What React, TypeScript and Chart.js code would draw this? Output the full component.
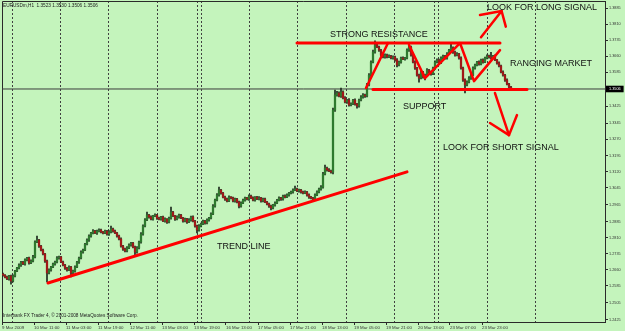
import React, { useEffect, useRef } from 'react';
import { Chart, registerables } from 'chart.js';

Chart.register(...registerables);

// ---- Data (EURUSDm, H1) ----
const closes: number[] = [
  1.2635, 1.2626, 1.2617, 1.2631, 1.2607, 1.2631, 1.2654, 1.2668, 1.2682, 1.2696,
  1.2687, 1.2706, 1.2715, 1.2692, 1.2701, 1.2720, 1.2790, 1.2799, 1.2771, 1.2752,
  1.2734, 1.2701, 1.2645, 1.2659, 1.2673, 1.2687, 1.2696, 1.2715, 1.2720, 1.2696,
  1.2682, 1.2668, 1.2659, 1.2673, 1.2645, 1.2654, 1.2673, 1.2696, 1.2715, 1.2743,
  1.2752, 1.2780, 1.2799, 1.2818, 1.2832, 1.2841, 1.2832, 1.2841, 1.2846, 1.2837,
  1.2832, 1.2841, 1.2827, 1.2837, 1.2851, 1.2841, 1.2832, 1.2818, 1.2804, 1.2771,
  1.2757, 1.2748, 1.2762, 1.2776, 1.2785, 1.2766, 1.2743, 1.2762, 1.2790, 1.2827,
  1.2865, 1.2893, 1.2916, 1.2907, 1.2897, 1.2912, 1.2916, 1.2902, 1.2897, 1.2907,
  1.2888, 1.2897, 1.2883, 1.2902, 1.2930, 1.2912, 1.2897, 1.2907, 1.2916, 1.2902,
  1.2888, 1.2897, 1.2883, 1.2893, 1.2907, 1.2888, 1.2865, 1.2846, 1.2865, 1.2874,
  1.2888, 1.2879, 1.2893, 1.2902, 1.2921, 1.2958, 1.2986, 1.3010, 1.3033, 1.3019,
  1.3000, 1.2991, 1.2982, 1.3000, 1.2996, 1.2982, 1.2991, 1.2977, 1.2958, 1.2972,
  1.2986, 1.2996, 1.2991, 1.3005, 1.2996, 1.2986, 1.3000, 1.2991, 1.2996, 1.2982,
  1.2991, 1.2977, 1.2968, 1.2958, 1.2949, 1.2963, 1.2972, 1.2986, 1.2996, 1.2991,
  1.3005, 1.3000, 1.3010, 1.3019, 1.3024, 1.3033, 1.3038, 1.3029, 1.3033, 1.3024,
  1.3019, 1.3024, 1.3010, 1.3000, 1.2996, 1.2991, 1.3010, 1.3024, 1.3038, 1.3047,
  1.3108, 1.3136, 1.3127, 1.3122, 1.3117, 1.3407, 1.3478, 1.3487, 1.3473, 1.3492,
  1.3464, 1.3445, 1.3454, 1.3431, 1.3436, 1.3454, 1.3436, 1.3426, 1.3454, 1.3468,
  1.3478, 1.3473, 1.3525, 1.3571, 1.3632, 1.3679, 1.3712, 1.3702, 1.3688, 1.3665,
  1.3656, 1.3665, 1.3656, 1.3660, 1.3651, 1.3656, 1.3642, 1.3618, 1.3632, 1.3651,
  1.3646, 1.3651, 1.3688, 1.3702, 1.3665, 1.3632, 1.3604, 1.3571, 1.3557, 1.3585,
  1.3562, 1.3571, 1.3595, 1.3585, 1.3576, 1.3604, 1.3632, 1.3642, 1.3628, 1.3651,
  1.3660, 1.3651, 1.3670, 1.3688, 1.3698, 1.3679, 1.3665, 1.3670, 1.3651, 1.3604,
  1.3548, 1.3525, 1.3539, 1.3557, 1.3571, 1.3604, 1.3618, 1.3632, 1.3623, 1.3642,
  1.3632, 1.3651, 1.3660, 1.3656, 1.3651, 1.3660, 1.3642, 1.3628, 1.3614, 1.3585,
  1.3571, 1.3548, 1.3529, 1.3515, 1.3506,
];

// upper / lower shadow lengths in pips
const wickUp: number[] = [
  4, 3, 5, 3, 4, 5, 3, 4, 6, 3,
  4, 5, 3, 4, 6, 8, 5, 19, 4, 3,
  5, 3, 4, 6, 3, 4, 5, 7, 4, 3,
  5, 3, 4, 6, 3, 4, 5, 3, 4, 6,
  5, 4, 6, 5, 3, 7, 4, 5, 6, 4,
  3, 5, 4, 6, 14, 4, 5, 3, 4, 5,
  3, 4, 6, 5, 4, 3, 5, 6, 4, 7,
  5, 6, 14, 4, 5, 3, 6, 4, 5, 3,
  4, 6, 3, 5, 23, 4, 3, 6, 5, 4,
  3, 5, 4, 6, 4, 5, 3, 4, 6, 5,
  4, 3, 5, 4, 6, 7, 5, 6, 14, 4,
  3, 5, 4, 6, 3, 4, 5, 3, 4, 6,
  5, 4, 3, 6, 4, 5, 3, 4, 6, 3,
  4, 5, 3, 4, 5, 3, 6, 4, 5, 3,
  4, 6, 5, 3, 4, 6, 14, 4, 5, 3,
  4, 6, 3, 5, 4, 3, 5, 6, 4, 7,
  8, 14, 5, 6, 4, 10, 23, 8, 6, 18,
  5, 6, 4, 7, 5, 4, 6, 3, 5, 7,
  6, 4, 8, 7, 6, 9, 19, 6, 5, 4,
  6, 5, 4, 6, 3, 5, 4, 6, 5, 4,
  5, 3, 6, 19, 5, 4, 6, 3, 5, 6,
  4, 5, 6, 3, 5, 4, 6, 5, 4, 6,
  5, 3, 6, 4, 19, 5, 4, 6, 3, 5,
  4, 6, 5, 7, 4, 6, 5, 3, 6, 4,
  5, 4, 6, 5, 22, 4, 6, 3, 5, 4,
  6, 4, 5, 3, 4,
];
const wickDn: number[] = [
  5, 4, 3, 6, 14, 4, 5, 3, 4, 6,
  3, 5, 4, 6, 3, 4, 5, 3, 6, 4,
  5, 6, 42, 4, 5, 3, 6, 4, 5, 3,
  4, 6, 5, 3, 19, 4, 5, 3, 6, 4,
  5, 3, 4, 6, 5, 4, 3, 6, 4, 5,
  4, 3, 5, 6, 4, 5, 3, 6, 4, 5,
  6, 5, 4, 3, 5, 4, 19, 5, 4, 6,
  5, 4, 3, 6, 4, 5, 3, 6, 4, 5,
  3, 5, 6, 4, 5, 3, 6, 4, 5, 3,
  5, 4, 6, 3, 5, 4, 6, 14, 5, 4,
  3, 5, 4, 6, 4, 3, 5, 4, 6, 5,
  4, 6, 5, 3, 4, 5, 6, 4, 9, 5,
  3, 5, 4, 6, 3, 4, 5, 3, 4, 6,
  5, 3, 4, 6, 9, 4, 5, 3, 4, 6,
  5, 4, 3, 6, 4, 5, 3, 4, 6, 5,
  4, 3, 5, 6, 4, 9, 5, 3, 4, 6,
  5, 4, 6, 3, 5, 8, 6, 5, 4, 6,
  5, 4, 6, 5, 4, 3, 6, 10, 5, 4,
  5, 6, 4, 5, 6, 4, 5, 3, 6, 5,
  4, 6, 5, 3, 4, 5, 6, 9, 4, 5,
  3, 5, 4, 6, 5, 4, 6, 5, 19, 4,
  5, 14, 6, 4, 5, 3, 6, 4, 5, 3,
  4, 6, 5, 3, 4, 6, 5, 4, 6, 5,
  6, 37, 5, 4, 6, 3, 5, 4, 6, 4,
  5, 3, 4, 6, 5, 4, 3, 6, 5, 4,
  5, 6, 4, 5, 4,
];
const firstOpen = 1.2640;
const PIP = 0.0001;
const currentPrice = 1.3506;

const yTickLabels: string[] = [
  '1.3885', '1.3810', '1.3735', '1.3660', '1.3585', '1.3506', '1.3425', '1.3345', '1.3270', '1.3195',
  '1.3120', '1.3045', '1.2965', '1.2885', '1.2810', '1.2735', '1.2660', '1.2585', '1.2505', '1.2425',
];
const xTickLabels: string[] = [
  '9 Mar 2009', '10 Mar 11:00', '11 Mar 03:00', '11 Mar 19:00', '12 Mar 11:00', '13 Mar 03:00',
  '13 Mar 19:00', '16 Mar 13:00', '17 Mar 05:00', '17 Mar 21:00', '18 Mar 13:00', '19 Mar 05:00',
  '19 Mar 21:00', '20 Mar 13:00', '23 Mar 07:00', '23 Mar 23:00',
];
// bar index at which each time label sits
const xTickBars: number[] = [-0.5, 15.5, 31.5, 47.5, 63.5, 79.5, 95.5, 111.5, 127.5, 143.5, 159.5, 175.5, 191.5, 207.5, 223.5, 239.5];
// day / session separators (bar index)
const daySeparatorBars: number[] = [4.5, 28.5, 52.5, 77, 97, 99, 123, 147, 171.5, 195.5, 215.5, 217.5, 242, 266];

// hand-drawn analysis (bar index, price)
const trendLine = [[22.5, 1.2598], [202, 1.3118]];
const resistanceLine = [[147, 1.3721], [248.5, 1.3721]];
const supportLine = [[185, 1.3504], [262, 1.3504]];
const swingUp = [[181.5, 1.3511], [192.5, 1.3721]];
const swingRange = [[203, 1.3712], [211, 1.3557], [228.5, 1.3721], [235.5, 1.3543], [248.5, 1.3688]];
const longArrowShaft = [[239, 1.3748], [249.3, 1.3871]];
const longArrowHead = [[238.5, 1.3852], [249.3, 1.3871], [251.4, 1.3798]];
const shortArrowShaft = [[246, 1.3487], [253, 1.3290]];
const shortArrowHead = [[243.5, 1.3347], [253, 1.3290], [257, 1.3384]];

const noteTexts = ['STRONG RESISTANCE', 'LOOK FOR LONG SIGNAL', 'RANGING MARKET', 'SUPPORT', 'LOOK FOR SHORT SIGNAL', 'TREND LINE'];
const noteBars = [163.5, 242, 253.5, 200, 220, 107];
const notePrices = [1.3759, 1.3885, 1.3623, 1.3426, 1.3230, 1.2767];

const symbolLine = 'EURUSDm,H1  1.3523 1.3530 1.3506 1.3506';
const copyrightLine = 'Interbank FX Trader 4, \u00A9 2001-2008 MetaQuotes Software Corp.';

const BG = '#c4f4bc';
const AXIS = '#2a2a2a';
const FONT = '"Liberation Sans", Arial, sans-serif';

export default function App() {
  const canvasRef = useRef<HTMLCanvasElement | null>(null);

  useEffect(() => {
    const canvas = canvasRef.current;
    if (!canvas) return;

    const opens = closes.map((c, i) => (i === 0 ? firstOpen : closes[i - 1]));
    const highs = closes.map((c, i) => Math.max(c, opens[i]) + wickUp[i] * PIP);
    const lows = closes.map((c, i) => Math.min(c, opens[i]) - wickDn[i] * PIP);

    const toPts = (arr: number[][]) => arr.map(([x, y]) => ({ x, y }));
    const red = (arr: number[][], width = 3) => ({
      type: 'line' as const,
      data: toPts(arr),
      borderColor: '#ff0000',
      borderWidth: width,
      pointRadius: 0,
      tension: 0,
      borderCapStyle: 'round' as const,
      borderJoinStyle: 'round' as const,
      order: 0,
    });

    const mtPlugin = {
      id: 'mtPlugin',
      beforeDraw(chart: any) {
        const { ctx, width, height } = chart;
        ctx.save();
        ctx.fillStyle = BG;
        ctx.fillRect(0, 0, width, height);
        ctx.restore();
      },
      beforeDatasetsDraw(chart: any) {
        const { ctx, chartArea, scales } = chart;
        const { left, top, right, bottom } = chartArea;
        ctx.save();
        ctx.strokeStyle = '#404040';
        ctx.lineWidth = 1;
        ctx.setLineDash([2, 2]);
        daySeparatorBars.forEach((b) => {
          const px = Math.round(scales.x.getPixelForValue(b)) + 0.5;
          ctx.beginPath();
          ctx.moveTo(px, top);
          ctx.lineTo(px, bottom);
          ctx.stroke();
        });
        ctx.setLineDash([]);
        ctx.strokeStyle = AXIS;
        ctx.beginPath();
        ctx.moveTo(left + 0.5, bottom);
        ctx.lineTo(left + 0.5, top + 0.5);
        ctx.lineTo(right, top + 0.5);
        ctx.stroke();
        ctx.restore();
      },
      afterDatasetsDraw(chart: any) {
        const { ctx, chartArea, scales } = chart;
        ctx.save();
        ctx.fillStyle = '#111111';
        ctx.textBaseline = 'middle';
        ctx.textAlign = 'left';
        ctx.font = `9px ${FONT}`;
        noteTexts.forEach((t, i) => {
          ctx.fillText(t, scales.x.getPixelForValue(noteBars[i]), scales.y.getPixelForValue(notePrices[i]));
        });
        ctx.fillStyle = '#222222';
        ctx.font = `4.7px ${FONT}`;
        ctx.fillText(symbolLine, chartArea.left + 1, chartArea.top + 5);
        ctx.fillText(copyrightLine, chartArea.left + 1, chartArea.bottom - 6);
        ctx.restore();
      },
    };

    const chart = new Chart(canvas, {
      type: 'bar',
      data: {
        datasets: [
          red(trendLine, 3),
          red(resistanceLine, 3),
          red(supportLine, 3),
          red(swingUp, 2.5),
          red(swingRange, 2.5),
          red(longArrowShaft, 2.5),
          red(longArrowHead, 2.5),
          red(shortArrowShaft, 2.5),
          red(shortArrowHead, 2.5),
          {
            type: 'bar',
            data: closes.map((c, i) => ({ x: i, y: [opens[i], c] })),
            backgroundColor: closes.map((c, i) => (c >= opens[i] ? '#2e7a2e' : '#a01818')),
            borderWidth: 0,
            barThickness: 1.6,
            grouped: false,
            minBarLength: 1,
            order: 2,
          },
          {
            type: 'bar',
            data: closes.map((c, i) => ({ x: i, y: [lows[i], highs[i]] })),
            backgroundColor: '#1c2a1c',
            borderWidth: 0,
            barThickness: 1,
            grouped: false,
            order: 3,
          },
          {
            type: 'line',
            data: [{ x: -0.5, y: currentPrice }, { x: 301, y: currentPrice }],
            borderColor: '#3c3c3c',
            borderWidth: 1,
            pointRadius: 0,
            order: 4,
          },
        ] as any,
      },
      options: {
        responsive: false,
        animation: false,
        devicePixelRatio: 1,
        events: [],
        layout: { padding: { left: 2, top: 1, right: 0, bottom: 0 } },
        plugins: { legend: { display: false }, tooltip: { enabled: false } },
        scales: {
          x: {
            type: 'linear',
            min: -0.5,
            max: 301,
            offset: false,
            afterBuildTicks: (s: any) => {
              s.ticks = xTickBars.map((v) => ({ value: v }));
            },
            afterFit: (s: any) => {
              s.height = 9;
              s.paddingLeft = 0;
              s.paddingRight = 0;
            },
            ticks: {
              callback: (_v: any, i: number) => xTickLabels[i],
              align: 'start',
              maxRotation: 0,
              minRotation: 0,
              autoSkip: false,
              padding: 0,
              color: '#333333',
              font: { size: 4.4, family: FONT },
            },
            grid: { drawOnChartArea: false, drawTicks: true, tickLength: 3, color: AXIS, offset: false },
            border: { display: true, color: AXIS },
          },
          y: {
            type: 'linear',
            position: 'right',
            min: 1.24156,
            max: 1.39178,
            afterBuildTicks: (s: any) => {
              s.ticks = yTickLabels.map((l) => ({ value: parseFloat(l) }));
            },
            afterFit: (s: any) => {
              s.width = 20;
              s.paddingTop = 0;
              s.paddingBottom = 0;
            },
            ticks: {
              callback: (_v: any, i: number) => yTickLabels[i],
              autoSkip: false,
              padding: 1,
              color: (c: any) => (c.tick && c.tick.value === currentPrice ? '#ffffff' : '#333333'),
              showLabelBackdrop: (c: any) => !!(c.tick && c.tick.value === currentPrice),
              backdropColor: '#000000',
              backdropPadding: { top: 1, bottom: 1, left: 3, right: 3 },
              font: { size: 3.8, family: FONT },
            },
            grid: { drawOnChartArea: false, drawTicks: true, tickLength: 3, color: AXIS },
            border: { display: true, color: AXIS },
          },
        },
      } as any,
      plugins: [mtPlugin],
    });

    return () => chart.destroy();
  }, []);

  return (
    <div style={{ position: 'absolute', left: 0, top: 0, width: 625, height: 331, background: BG }}>
      <canvas ref={canvasRef} width={625} height={331} style={{ display: 'block', width: 625, height: 331 }} />
    </div>
  );
}
